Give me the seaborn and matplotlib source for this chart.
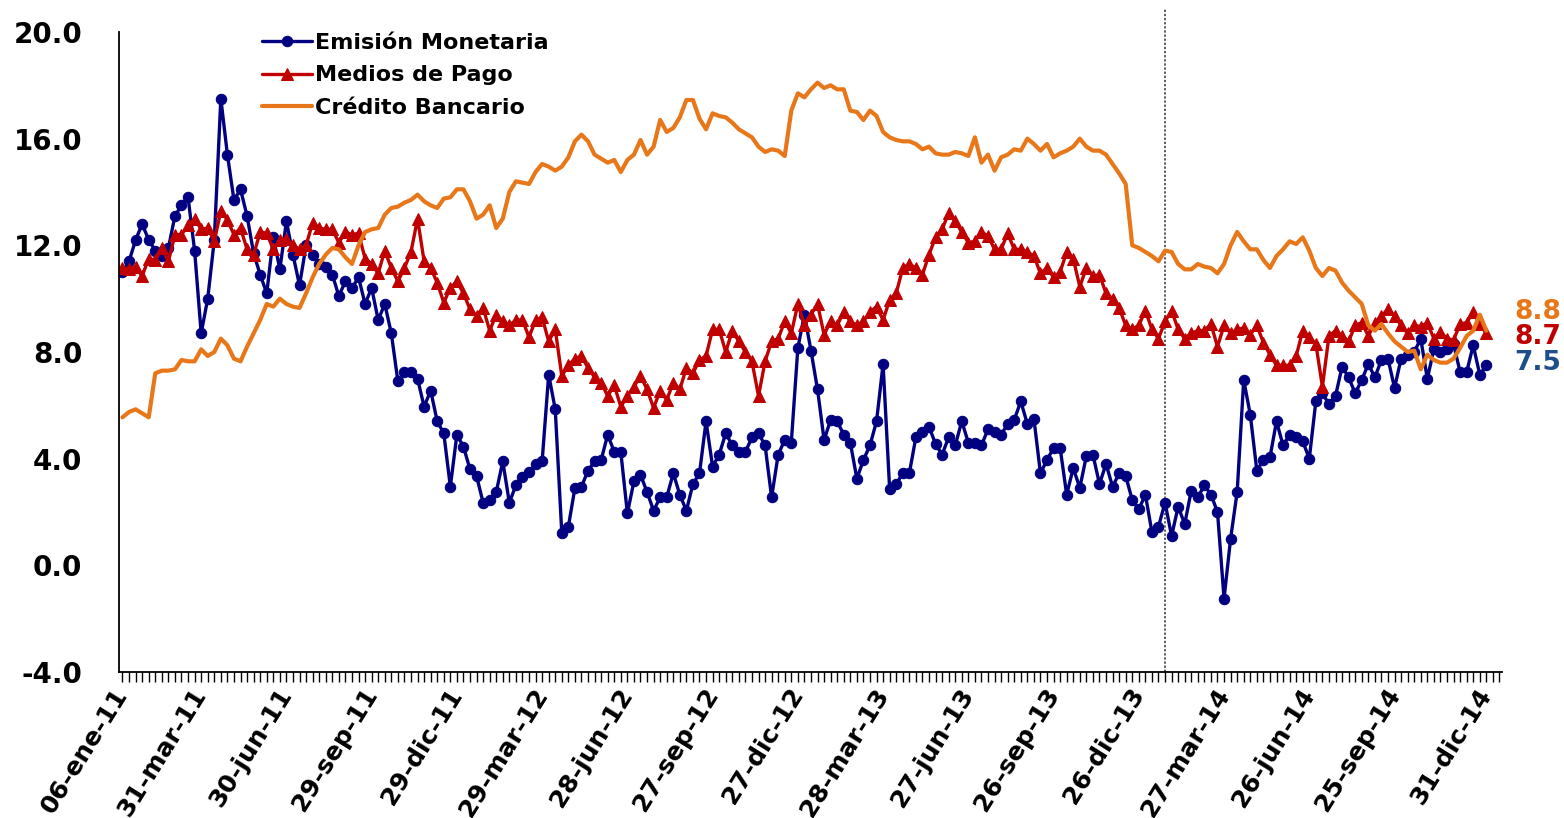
import numpy as np
import pandas as pd
import matplotlib
matplotlib.use("Agg")
import matplotlib.pyplot as plt
from matplotlib.ticker import FixedLocator, FormatStrFormatter
import seaborn as sns

# ---------------- data (weekly, % annual growth) ----------------
series_names = ["Emisión Monetaria", "Medios de Pago", "Crédito Bancario"]

emision = [
    11.0, 11.4, 12.2, 12.8, 12.2, 11.8, 11.6, 11.9, 13.1, 13.5,
    13.8, 11.8, 8.7, 10.0, 12.2, 17.5, 15.4, 13.7, 14.1, 13.1,
    11.7, 10.9, 10.2, 12.3, 11.1, 12.9, 11.65, 10.5, 12.0, 11.65,
    11.3, 11.2, 10.9, 10.1, 10.65, 10.4, 10.8, 9.8, 10.4, 9.2,
    9.8, 8.7, 6.9, 7.25, 7.25, 7.0, 5.95, 6.55, 5.4, 4.95,
    2.95, 4.9, 4.45, 3.6, 3.35, 2.35, 2.45, 2.75, 3.9, 2.35,
    3.0, 3.3, 3.5, 3.8, 3.9, 7.15, 5.85, 1.2, 1.45, 2.9,
    2.95, 3.55, 3.9, 3.95, 4.9, 4.25, 4.25, 1.95, 3.15, 3.4,
    2.75, 2.05, 2.55, 2.55, 3.45, 2.65, 2.05, 3.05, 3.45, 5.4,
    3.7, 4.15, 4.95, 4.5, 4.25, 4.25, 4.8, 4.95, 4.5, 2.55,
    4.15, 4.7, 4.6, 8.15, 9.4, 8.05, 6.6, 4.7, 5.45, 5.4,
    4.9, 4.6, 3.25, 3.95, 4.5, 5.4, 7.55, 2.85, 3.05, 3.45,
    3.45, 4.8, 5.0, 5.2, 4.55, 4.15, 4.8, 4.5, 5.4, 4.6,
    4.6, 4.5, 5.1, 5.0, 4.9, 5.3, 5.45, 6.15, 5.3, 5.5,
    3.45, 3.95, 4.4, 4.4, 2.65, 3.65, 2.9, 4.1, 4.15, 3.05,
    3.8, 2.95, 3.45, 3.35, 2.45, 2.1, 2.65, 1.25, 1.45, 2.35,
    1.1, 2.2, 1.55, 2.8, 2.55, 3.0, 2.65, 2.0, -1.25, 1.0,
    2.75, 6.95, 5.65, 3.55, 3.95, 4.05, 5.4, 4.5, 4.9, 4.8,
    4.65, 4.0, 6.15, 6.45, 6.05, 6.35, 7.45, 7.05, 6.45, 6.95,
    7.55, 7.05, 7.7, 7.75, 6.65, 7.75, 7.9, 8.0, 8.5, 7.0,
    8.1, 8.0, 8.1, 8.3, 7.25, 7.25, 8.25, 7.15, 7.5,
]

medios = [
    11.15, 11.1, 11.2, 10.85, 11.5, 11.45, 11.9, 11.4, 12.4, 12.4,
    12.75, 13.0, 12.6, 12.65, 12.15, 13.3, 12.95, 12.4, 12.65, 11.85,
    11.65, 12.5, 12.45, 11.85, 12.2, 12.25, 12.0, 11.85, 12.0, 12.85,
    12.65, 12.6, 12.6, 12.1, 12.5, 12.4, 12.45, 11.5, 11.3, 10.95,
    11.8, 11.15, 10.65, 11.15, 11.75, 13.0, 11.4, 11.15, 10.6, 9.85,
    10.4, 10.65, 10.2, 9.6, 9.35, 9.65, 8.8, 9.4, 9.15, 9.0,
    9.2, 9.2, 8.55, 9.2, 9.3, 8.4, 8.85, 7.1, 7.5, 7.75,
    7.85, 7.4, 7.05, 6.85, 6.35, 6.75, 5.95, 6.35, 6.7, 7.1,
    6.6, 5.9, 6.55, 6.2, 6.85, 6.6, 7.4, 7.2, 7.7, 7.85,
    8.85, 8.85, 8.0, 8.8, 8.4, 8.0, 7.65, 6.35, 7.65, 8.4,
    8.5, 9.15, 8.7, 9.8, 9.0, 9.4, 9.8, 8.65, 9.15, 9.0,
    9.5, 9.15, 9.0, 9.15, 9.5, 9.7, 9.2, 9.95, 10.2, 11.15,
    11.3, 11.15, 10.9, 11.65, 12.3, 12.6, 13.2, 12.9, 12.5, 12.1,
    12.15, 12.5, 12.35, 11.85, 11.85, 12.45, 11.85, 11.85, 11.75, 11.6,
    10.95, 11.15, 10.8, 11.0, 11.75, 11.5, 10.45, 11.15, 10.85, 10.9,
    10.2, 10.0, 9.65, 9.0, 8.85, 9.0, 9.55, 8.85, 8.5, 9.15,
    9.55, 8.85, 8.5, 8.7, 8.8, 8.8, 9.05, 8.2, 9.0, 8.7,
    8.85, 8.9, 8.65, 9.0, 8.35, 7.9, 7.5, 7.5, 7.5, 7.85,
    8.8, 8.55, 8.3, 6.7, 8.6, 8.8, 8.6, 8.4, 9.0, 9.1,
    8.6, 9.1, 9.35, 9.6, 9.35, 9.0, 8.7, 9.0, 8.95, 9.1,
    8.5, 8.75, 8.5, 8.45, 9.05, 9.1, 9.5, 9.05, 8.7,
]

credito = [
    5.55, 5.75, 5.85, 5.7, 5.55, 7.2, 7.3, 7.3, 7.35, 7.7,
    7.65, 7.65, 8.1, 7.85, 8.0, 8.5, 8.25, 7.75, 7.65, 8.2,
    8.7, 9.2, 9.8, 9.7, 10.0, 9.8, 9.7, 9.65, 10.2, 10.8,
    11.3, 11.65, 11.9, 11.85, 11.55, 11.3, 12.0, 12.5, 12.6, 12.65,
    13.15, 13.4, 13.45, 13.6, 13.7, 13.9, 13.65, 13.5, 13.4, 13.75,
    13.8, 14.1, 14.1, 13.65, 13.0, 13.15, 13.5, 12.65, 13.0, 14.0,
    14.4, 14.35, 14.3, 14.75, 15.05, 14.95, 14.8, 14.95, 15.3, 15.9,
    16.15, 15.9, 15.4, 15.25, 15.1, 15.2, 14.75, 15.2, 15.4, 15.95,
    15.4, 15.7, 16.7, 16.25, 16.4, 16.8, 17.45, 17.45, 16.75, 16.35,
    16.95, 16.85, 16.8, 16.6, 16.35, 16.2, 16.05, 15.7, 15.5, 15.6,
    15.55, 15.35, 17.05, 17.7, 17.55, 17.85, 18.1, 17.9, 18.0, 17.85,
    17.85, 17.05, 17.0, 16.7, 17.05, 16.85, 16.25, 16.05, 15.95, 15.9,
    15.9, 15.8, 15.6, 15.7, 15.45, 15.4, 15.4, 15.5, 15.45, 15.35,
    16.05, 15.1, 15.4, 14.8, 15.3, 15.4, 15.6, 15.55, 16.0, 15.8,
    15.55, 15.8, 15.3, 15.45, 15.55, 15.7, 16.0, 15.7, 15.55, 15.55,
    15.4, 15.05, 14.7, 14.3, 12.0, 11.9, 11.75, 11.6, 11.4, 11.8,
    11.75, 11.3, 11.1, 11.1, 11.3, 11.2, 11.15, 10.95, 11.3, 12.0,
    12.5, 12.15, 11.85, 11.85, 11.45, 11.15, 11.6, 11.85, 12.15, 12.05,
    12.3, 11.8, 11.15, 10.85, 11.15, 11.05, 10.6, 10.3, 10.05, 9.8,
    9.0, 8.8, 9.05, 8.7, 8.4, 8.2, 8.0, 8.05, 7.35, 7.9,
    7.7, 7.6, 7.6, 7.75, 8.15, 8.6, 8.8, 9.4, 8.8,
]

tick_labels = ["06-ene-11", "31-mar-11", "30-jun-11", "29-sep-11", "29-dic-11",
               "29-mar-12", "28-jun-12", "27-sep-12", "27-dic-12", "28-mar-13",
               "27-jun-13", "26-sep-13", "26-dic-13", "27-mar-14", "26-jun-14",
               "25-sep-14", "31-dic-14"]
tick_weeks = [0, 12, 25, 38, 51, 64, 77, 90, 103, 116, 129, 142, 155, 168, 181, 194, 208]
marker_week = 159  # vertical reference line

# ---------------- styling ----------------
c_blue = "#000080"
c_red = "#C00000"
c_orange = "#E8771A"
c_blue_lbl = "#1F4E8C"

sns.set_style("white")
plt.rcParams['font.family'] = ['DejaVu Sans']
plt.rcParams['text.color'] = 'black'
plt.rcParams['xtick.color'] = 'black'
plt.rcParams['ytick.color'] = 'black'
plt.rcParams['axes.labelcolor'] = 'black'

fig = plt.figure(figsize=(15.64, 8.18), dpi=100)
ax = fig.add_axes([0.0758, 0.1785, 0.8846, 0.7824])

weeks = np.arange(len(emision))
df = pd.DataFrame({"semana": weeks,
                   series_names[0]: emision,
                   series_names[1]: medios,
                   series_names[2]: credito})

sns.lineplot(data=df, x="semana", y=series_names[0], ax=ax, color=c_blue, lw=2.4,
             marker="o", markersize=7.5, markeredgecolor=c_blue, markerfacecolor=c_blue,
             label=series_names[0])
sns.lineplot(data=df, x="semana", y=series_names[1], ax=ax, color=c_red, lw=2.4,
             marker="^", markersize=8, markeredgecolor=c_red, markerfacecolor=c_red,
             label=series_names[1])
sns.lineplot(data=df, x="semana", y=series_names[2], ax=ax, color=c_orange, lw=3.0,
             label=series_names[2])

# vertical dotted line
ax.axvline(marker_week, ymin=0, ymax=1.0375, color="#333333", lw=1.1,
           ls=(0, (1.5, 1.2)), clip_on=False, zorder=1)

ax.set_xlim(-0.6, 210.4)
ax.set_ylim(-4, 20)
ax.set_xlabel("")
ax.set_ylabel("")

ax.yaxis.set_major_locator(FixedLocator(np.arange(-4, 20.1, 4)))
ax.yaxis.set_major_formatter(FormatStrFormatter("%.1f"))
ax.tick_params(axis="y", length=0, pad=26, labelsize=20, labelcolor="black")
for t in ax.get_yticklabels():
    t.set_fontweight("bold")

ax.xaxis.set_major_locator(FixedLocator(tick_weeks))
ax.set_xticklabels(tick_labels, rotation=58, ha="right", va="center",
                   rotation_mode="anchor", fontsize=18, fontweight="bold",
                   color="black")
ax.xaxis.set_minor_locator(FixedLocator(np.arange(0, 211)))
ax.tick_params(axis="x", which="both", direction="out", length=7, width=1,
               color="black", pad=6, bottom=True)

for s in ["top", "right"]:
    ax.spines[s].set_visible(False)
for s in ["left", "bottom"]:
    ax.spines[s].set_color("black")
    ax.spines[s].set_linewidth(1.3)

leg = ax.legend(loc="upper left", bbox_to_anchor=(0.097, 1.012), frameon=False,
                prop={"weight": "bold", "size": 16}, handlelength=2.25,
                handletextpad=0.15, labelspacing=0.55, borderaxespad=0)
for t in leg.get_texts():
    t.set_color("black")

# end-value labels
ax.text(212.3, 9.5, f"{credito[-1]:.1f}", color=c_orange, fontsize=19,
        fontweight="bold", va="center", ha="left", clip_on=False)
ax.text(212.3, 8.55, f"{medios[-1]:.1f}", color=c_red, fontsize=19,
        fontweight="bold", va="center", ha="left", clip_on=False)
ax.text(212.3, 7.58, f"{emision[-1]:.1f}", color=c_blue_lbl, fontsize=19,
        fontweight="bold", va="center", ha="left", clip_on=False)

fig.savefig("out.png", dpi=100)
